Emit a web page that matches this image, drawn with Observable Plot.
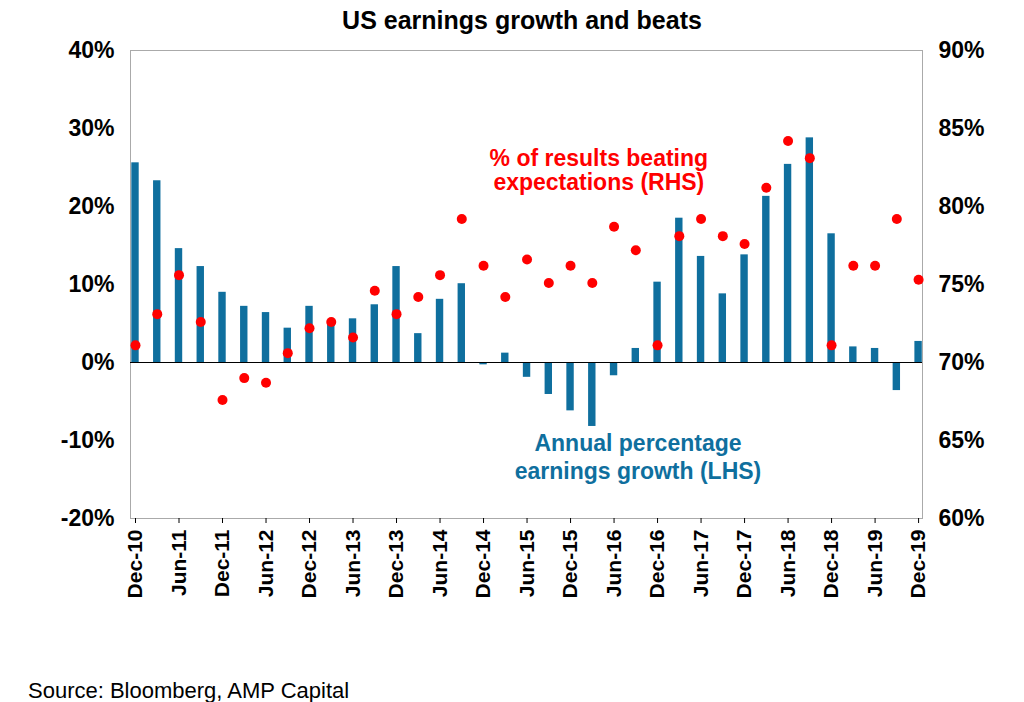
<!DOCTYPE html>
<html><head><meta charset="utf-8">
<script src="https://cdn.jsdelivr.net/npm/d3@7"></script>
<script src="https://cdn.jsdelivr.net/npm/@observablehq/plot@0.6"></script>
<style>
body{margin:0;background:#fff;font-family:Arial,"Liberation Sans",sans-serif;}
#title{height:40px;line-height:40px;text-align:center;font-weight:bold;font-size:25px;padding-left:20px}
#cap{font-size:22px;margin:8px 0 0 28px}
svg text{font-family:Arial,"Liberation Sans",sans-serif}
</style></head><body>
<div id="title">US earnings growth and beats</div>
<div id="chart"></div>
<div id="cap">Source: Bloomberg, AMP Capital</div>
<script>
const quarters = ["Dec-10","Mar-11","Jun-11","Sep-11","Dec-11","Mar-12","Jun-12","Sep-12","Dec-12","Mar-13","Jun-13","Sep-13","Dec-13","Mar-14","Jun-14","Sep-14","Dec-14","Mar-15","Jun-15","Sep-15","Dec-15","Mar-16","Jun-16","Sep-16","Dec-16","Mar-17","Jun-17","Sep-17","Dec-17","Mar-18","Jun-18","Sep-18","Dec-18","Mar-19","Jun-19","Sep-19","Dec-19"];
const growth = [25.6,23.3,14.6,12.3,9.0,7.2,6.4,4.4,7.2,4.9,5.6,7.4,12.3,3.7,8.1,10.1,-0.3,1.2,-1.9,-4.1,-6.2,-8.2,-1.7,1.8,10.3,18.5,13.6,8.8,13.8,21.3,25.4,28.8,16.5,2.0,1.8,-3.6,2.7];
const beats = [71.1,73.1,75.6,72.6,67.6,69.0,68.7,70.6,72.2,72.6,71.6,74.6,73.1,74.2,75.6,79.2,76.2,74.2,76.6,75.1,76.2,75.1,78.7,77.2,71.1,78.1,79.2,78.1,77.6,81.2,84.2,83.1,71.1,76.2,76.2,79.2,75.3];
const leftTicks = [-20,-10,0,10,20,30,40];

const data = quarters.map((q,i)=>({i,q,g:growth[i],b:beats[i]}));
const toLeft = v => (v-70)*2;
const blue = "#0f6f9e", red = "#ff0000";

const chart = Plot.plot({
  width:1024, height:630,
  marginTop:10, marginBottom:152, marginLeft:130, marginRight:102,
  x:{type:"linear", domain:[-0.23,36.18], axis:null},
  y:{domain:[-20,40], axis:null},
  marks:[
    Plot.frame({stroke:"#aaa"}),
    Plot.rectY(data,{x1:d=>d.i-0.17,x2:d=>d.i+0.17,y:"g",fill:blue}),
    Plot.ruleY([0],{stroke:"#000",strokeWidth:1.2}),
    Plot.dot(data,{x:"i",y:d=>toLeft(d.b),r:5,fill:red}),
    Plot.axisY(leftTicks,{anchor:"left",label:null,tickFormat:d=>d+"%",tickSize:0,tickPadding:16,fontSize:23,fontWeight:"bold"}),
    Plot.axisY(leftTicks,{anchor:"right",label:null,tickFormat:d=>(70+d/2)+"%",tickSize:0,tickPadding:16,fontSize:23,fontWeight:"bold"}),
    Plot.axisX(data.filter(d=>d.i%2===0).map(d=>d.i),{anchor:"bottom",label:null,tickFormat:i=>quarters[i],tickRotate:-90,tickSize:5,tickPadding:6,fontSize:21,fontWeight:"bold"}),
    Plot.text(["% of results beating","expectations (RHS)"],{x:21.3,y:(d,k)=>[26.2,23.0][k],text:d=>d,fill:red,fontSize:23,fontWeight:"bold"}),
    Plot.text(["Annual percentage","earnings growth (LHS)"],{x:23.1,y:(d,k)=>[-10.4,-14.0][k],text:d=>d,fill:blue,fontSize:23,fontWeight:"bold"})
  ]
});
document.getElementById("chart").append(chart);
</script></body></html>
